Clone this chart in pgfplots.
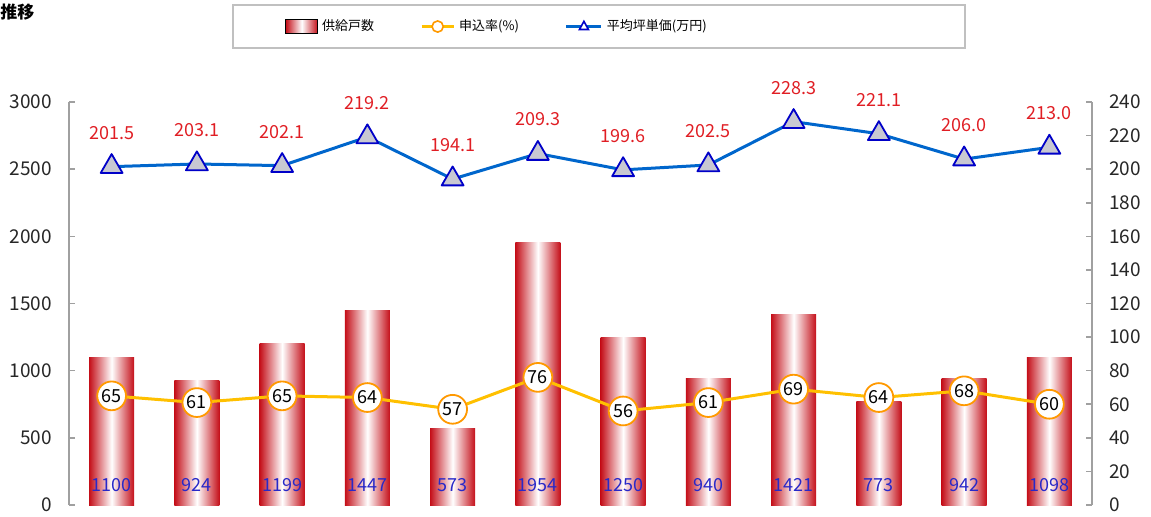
\documentclass[border=0pt]{standalone}
\usepackage{pgfplots}
\pgfplotsset{compat=1.18}
\usepackage{fontspec}
\setmainfont{Noto Sans CJK JP}
\definecolor{barred}{RGB}{196,14,24}
\definecolor{axisgray}{RGB}{160,160,160}
\definecolor{rateyellow}{RGB}{255,192,0}
\definecolor{rateorange}{RGB}{255,153,0}
\definecolor{priceblue}{RGB}{0,102,204}
\definecolor{tridraw}{RGB}{0,0,200}
\definecolor{trifill}{RGB}{200,200,210}
\definecolor{labelred}{RGB}{224,30,36}
\definecolor{barblue}{RGB}{40,40,200}
\definecolor{legendgray}{RGB}{192,192,192}
\newcommand\onebar[2]{\addplot[ybar, bar shift=0pt, bar width=0.53, draw=none, left color=barred, right color=barred, middle color=white] coordinates {(#1,#2)};}
\begin{document}
\begin{tikzpicture}
\useasboundingbox (0,0) rectangle (575.5pt,258pt);
\pgfplotsset{
  base/.style={scale only axis, width=511.5pt, height=201.5pt,
    at={(34.5pt,5.5pt)}, anchor=south west,
    xmin=-0.5, xmax=11.5, axis x line=none, clip=false,
    tick align=inside, major tick length=3pt,
    y axis line style={draw=axisgray, line width=1pt},
    ytick style={draw=axisgray, line width=0.8pt},
    tick label style={font=\fontsize{9.5}{11}\selectfont, text=black!85},
    /pgf/number format/assume math mode=true,
    /pgf/number format/1000 sep={}},
}
\node[anchor=north west, inner sep=0pt, font=\bfseries\fontsize{8.5}{10}\selectfont] at (0pt,256pt) {推移};
\draw[legendgray, line width=0.8pt] (116.5pt,234pt) rectangle (482.5pt,255.5pt);

\begin{axis}[base, ymin=0, ymax=3000, ytick={0,500,...,3000},
  axis y line*=left, yticklabel style={xshift=-5pt}]
\onebar{0}{1100}
\onebar{1}{924}
\onebar{2}{1199}
\onebar{3}{1447}
\onebar{4}{573}
\onebar{5}{1954}
\onebar{6}{1250}
\onebar{7}{940}
\onebar{8}{1421}
\onebar{9}{773}
\onebar{10}{942}
\onebar{11}{1098}
\addplot[draw=none, nodes near coords, point meta=explicit symbolic,
  every node near coord/.append style={anchor=center, text=barblue, font=\fontsize{9}{10}\selectfont}]
  coordinates {(0,150)[1100] (1,150)[924] (2,150)[1199] (3,150)[1447] (4,150)[573] (5,150)[1954]
               (6,150)[1250] (7,150)[940] (8,150)[1421] (9,150)[773] (10,150)[942] (11,150)[1098]};
\end{axis}

\begin{axis}[base, ymin=0, ymax=240, ytick={0,20,...,240},
  axis y line*=right, yticklabel style={xshift=5pt},
  legend columns=3,
  legend style={draw=none, fill=none, at={(0.2111,1.1873)}, anchor=west, inner sep=0pt,
    font=\fontsize{6.5}{8}\selectfont, nodes={inner sep=0pt, anchor=west},
    /tikz/every odd column/.append style={column sep=2pt},
    /tikz/every even column/.append style={column sep=23pt}}]
\addlegendimage{legend image code/.code={\shade[left color=barred,right color=barred,middle color=white] (0pt,-3.5pt) rectangle (16pt,3.5pt);}}
\addlegendentry{供給戸数}
\addlegendimage{legend image code/.code={\draw[rateyellow, line width=1.5pt] (0pt,0pt) -- (16pt,0pt); \draw[rateorange, fill=white, line width=0.8pt] (8pt,0pt) circle (2.8pt);}}
\addlegendentry{申込率(\%)}
\addlegendimage{legend image code/.code={\draw[priceblue, line width=1.5pt] (0pt,0pt) -- (17.5pt,0pt); \draw[tridraw, fill=white, line width=0.8pt, line join=miter] (8.75pt,2.6pt) -- (6.5pt,-1.5pt) -- (11pt,-1.5pt) -- cycle;}}
\addlegendentry{平均坪単価(万円)}

\addplot[forget plot, rateyellow, line width=1.5pt, line join=round, mark=*, mark size=7.2pt,
  mark options={draw=rateorange, fill=white, line width=0.9pt},
  nodes near coords, point meta=explicit symbolic,
  every node near coord/.append style={anchor=center, text=black, font=\fontsize{9}{10}\selectfont}]
  coordinates {(0,65)[65] (1,61)[61] (2,65)[65] (3,64)[64] (4,57)[57] (5,76)[76]
               (6,56)[56] (7,61)[61] (8,69)[69] (9,64)[64] (10,68)[68] (11,60)[60]};
\addplot[forget plot, priceblue, line width=1.5pt, line join=round, mark=triangle*, mark size=6.3pt,
  mark options={draw=tridraw, fill=trifill, line width=0.9pt},
  nodes near coords, point meta=explicit symbolic,
  every node near coord/.append style={anchor=center, yshift=17pt, text=labelred, font=\fontsize{9}{10}\selectfont}]
  coordinates {(0,201.5)[201.5] (1,203.1)[203.1] (2,202.1)[202.1] (3,219.2)[219.2] (4,194.1)[194.1] (5,209.3)[209.3]
               (6,199.6)[199.6] (7,202.5)[202.5] (8,228.3)[228.3] (9,221.1)[221.1] (10,206.0)[206.0] (11,213.0)[213.0]};
\end{axis}
\end{tikzpicture}
\end{document}
